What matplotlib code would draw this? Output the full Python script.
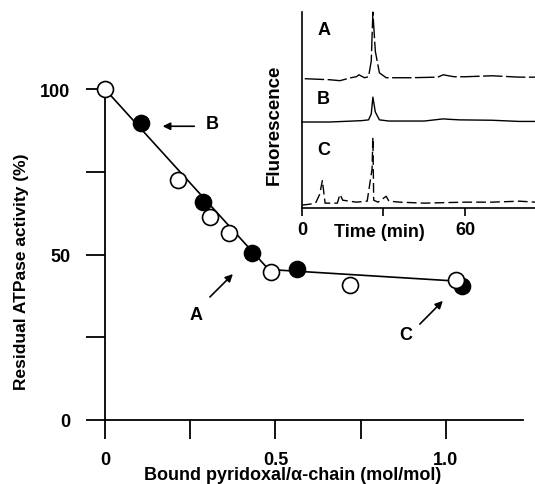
import matplotlib
matplotlib.use('Agg')
import matplotlib.pyplot as plt

plt.rcParams['font.family'] = ['Liberation Sans', 'DejaVu Sans']
plt.rcParams['font.weight'] = 'bold'

# main panel data
open_x = [0.0, 0.214, 0.308, 0.363, 0.487, 0.718, 1.03]
open_y = [100, 72.5, 61.3, 56.5, 44.7, 40.8, 42.3]
filled_x = [0.106, 0.287, 0.43, 0.563, 1.047]
filled_y = [89.7, 65.9, 50.5, 45.6, 40.5]
fit_x = [0.0, 0.48, 1.03]
fit_y = [100, 45.5, 42.0]

x_ticks = [0, 0.25, 0.5, 0.75, 1.0]
x_labels = ['0', '', '0.5', '', '1.0']
y_ticks = [0, 25, 50, 75, 100]
y_labels = ['0', '', '50', '', '100']

# inset chromatograms (time in min, arbitrary fluorescence units)
trace_a_t = [1, 10, 14, 18, 20, 21, 23, 24.5, 25.5, 26.1, 27, 28.5, 31, 40, 50, 52, 54, 56, 60, 70, 80, 86]
trace_a_y = [66, 65.5, 65, 66.5, 67, 68, 66.5, 67, 75, 100, 80, 69, 66.5, 66.5, 66.8, 68, 67.5, 67, 67, 67.5, 66.8, 66.8]
trace_b_t = [0, 10, 17, 22, 24.5, 25.5, 26.1, 27, 28.5, 32, 45, 52, 54, 58, 70, 80, 86]
trace_b_y = [43.9, 43.9, 44.3, 44.6, 45, 48, 56.6, 49, 45, 44.4, 44.4, 45.5, 45.3, 45, 44.8, 44.2, 44.2]
trace_c_t = [0, 3, 5, 6.5, 7.5, 8.5, 13, 14, 15, 20, 24, 25.8, 26.1, 26.4, 28, 30, 31, 32, 36, 45, 60, 70, 80, 86]
trace_c_y = [1.5, 2, 2.5, 7, 14, 2.5, 2.5, 7, 4, 3, 3.5, 20, 36, 4, 3, 5, 6, 3.5, 3, 2.5, 3, 3, 3.5, 3]
trace_names = ['A', 'B', 'C']
trace_label_y = [91, 56, 30]

fig = plt.figure(figsize=(5.35, 4.85), dpi=100)
ax = fig.add_axes([0.1963, 0.132, 0.781, 0.682])

ax.plot(fit_x, fit_y, color='black', lw=1.2, zorder=2, clip_on=False)
ax.plot(filled_x, filled_y, 'o', ms=11.5, mfc='black', mec='black', mew=1.2, zorder=3, clip_on=False)
ax.plot(open_x, open_y, 'o', ms=11.5, mfc='white', mec='black', mew=1.2, zorder=4, clip_on=False)

ax.set_xlim(0, 1.226)
ax.set_ylim(0, 100)
ax.set_xticks(x_ticks)
ax.set_xticklabels(x_labels)
ax.set_yticks(y_ticks)
ax.set_yticklabels(y_labels)
ax.tick_params(direction='out', length=14, width=1.3, labelsize=13, pad=8)
ax.tick_params(axis='y', pad=11)
for s in ['top', 'right']:
    ax.spines[s].set_visible(False)
for s in ['left', 'bottom']:
    ax.spines[s].set_linewidth(1.3)

# axis titles placed by hand, they sit off-centre in the original
fig.text(293 / 535, 1 - 476 / 485, 'Bound pyridoxal/\u03b1-chain (mol/mol)', ha='center', va='center',
         fontsize=13, fontweight='bold')
fig.text(0.041, 0.44, 'Residual ATPase activity (%)', rotation=90, ha='center', va='center',
         fontsize=12.5, fontweight='bold')

# arrows pointing at the samples shown in the inset
arrow = dict(arrowstyle='-|>', color='black', lw=1.2, mutation_scale=11)
ax.annotate('', xy=(0.161, 88.8), xytext=(0.27, 88.8), arrowprops=arrow)
ax.text(0.314, 89.5, 'B', fontsize=13, fontweight='bold', va='center', ha='center')
ax.annotate('', xy=(0.381, 44.7), xytext=(0.302, 36.6), arrowprops=arrow)
ax.text(0.267, 32.0, 'A', fontsize=13, fontweight='bold', va='center', ha='center')
ax.annotate('', xy=(0.997, 36.6), xytext=(0.918, 28.4), arrowprops=arrow)
ax.text(0.883, 25.7, 'C', fontsize=13, fontweight='bold', va='center', ha='center')

# inset
ins = fig.add_axes([0.5645, 0.569, 0.4355, 0.404], facecolor='none')
ins.plot(trace_a_t, trace_a_y, color='black', lw=1.0, dashes=(14, 2.5), clip_on=False)
ins.plot(trace_b_t, trace_b_y, color='black', lw=1.0, clip_on=False)
ins.plot(trace_c_t, trace_c_y, color='black', lw=1.0, dashes=(7, 3), clip_on=False)
for name, ly in zip(trace_names, trace_label_y):
    ins.text(8, ly, name, fontsize=13, fontweight='bold', va='center', ha='center')

ins.set_xlim(0, 85.8)
ins.set_ylim(0, 100)
ins.set_xticks([0, 30, 60])
ins.set_xticklabels(['0', '', '60'])
ins.set_yticks([])
ins.tick_params(direction='out', length=6, width=1.2, labelsize=13, pad=3)
for s in ['top', 'right']:
    ins.spines[s].set_visible(False)
for s in ['left', 'bottom']:
    ins.spines[s].set_linewidth(1.2)
fig.text(274 / 535, 1 - 125 / 485, 'Fluorescence', rotation=90, ha='center', va='center',
         fontsize=13.5, fontweight='bold')
ins.text(28.5, -12, 'Time (min)', fontsize=13, fontweight='bold', ha='center', va='center',
         transform=ins.transData, clip_on=False)

fig.savefig('out.png', dpi=100)
